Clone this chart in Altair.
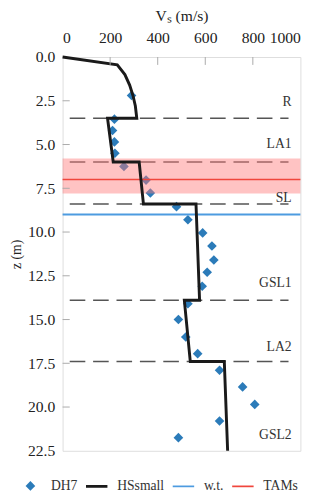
import altair as alt
import pandas as pd

# ---- data ----
dh7_vs = [290, 218, 210, 218, 220, 258, 351, 369, 479, 527, 589, 628, 636, 608, 587,
          527, 487, 518, 568, 660, 757, 808, 660, 487]
dh7_z = [2.2, 3.55, 4.2, 4.85, 5.5, 6.25, 7.03, 7.77, 8.55, 9.3, 10.05, 10.8, 11.6, 12.3, 13.1,
         14.1, 15.0, 16.0, 16.95, 17.9, 18.85, 19.85, 20.8, 21.75]

hs_vs = [0, 230, 262, 282, 296, 306, 312, 189, 213, 322, 340, 561, 576, 512, 537, 680, 694]
hs_z = [0.0, 0.45, 1.0, 1.6, 2.2, 2.8, 3.5, 3.5, 6.0, 6.0, 8.4, 8.4, 13.9, 13.9, 17.4, 17.4, 22.5]

boundary_z = [3.5, 6.0, 8.4, 13.9, 17.4]
layer_names = ["R", "LA1", "SL", "GSL1", "LA2", "GSL2"]
layer_label_z = [2.6, 5.0, 8.05, 12.9, 16.6, 21.6]

wt_z = [9.0]
tams_z = [7.0]
tams_lo = [5.8]
tams_hi = [7.8]

x_ticks = [0, 200, 400, 600, 800, 1000]
y_ticks = [0.0, 2.5, 5.0, 7.5, 10.0, 12.5, 15.0, 17.5, 20.0, 22.5]

series = ["DH7", "HSsmall", "w.t.", "TAMs"]
series_colors = ["#2b7bb9", "#1a1a1a", "#4d9be0", "#f0463c"]

FONT = "Liberation Serif"

# ---- frames ----
df_pts = pd.DataFrame({"vs": dh7_vs, "z": dh7_z, "series": "DH7"})
df_hs = pd.DataFrame({"vs": hs_vs, "z": hs_z, "i": list(range(len(hs_vs)))})
df_bnd = pd.DataFrame({"vs": 30, "x1": 950, "z": boundary_z})
df_lab = pd.DataFrame({"name": layer_names, "z": layer_label_z, "vs": 963})
df_wt = pd.DataFrame({"z": wt_z})
df_tam = pd.DataFrame({"z": tams_z, "lo": tams_lo, "hi": tams_hi})
df_yt = pd.DataFrame({"z": y_ticks[1:-1], "vs": 0, "x1": 30})
df_xt = pd.DataFrame({"vs": x_ticks[1:-1], "z": 0.0, "z1": 0.45})

xs = alt.Scale(domain=[0, 1000], nice=False)
ys = alt.Scale(domain=[0, 22.5], nice=False, reverse=True)

xaxis = alt.Axis(orient="top", values=x_ticks, format="d", title="Vₛ (m/s)", grid=False,
                 ticks=False, domain=False, labelPadding=12, titlePadding=6,
                 labelOverlap=False, labelBound=False,
                 labelFont=FONT, labelFontSize=16, labelColor="#222",
                 titleFont=FONT, titleFontSize=16, titleFontWeight="normal",
                 titleColor="#222")
yaxis = alt.Axis(values=y_ticks, format=".1f", title="z (m)", grid=False,
                 ticks=False, domain=False, labelPadding=8, titlePadding=4,
                 labelOverlap=False,
                 labelFont=FONT, labelFontSize=16, labelColor="#222",
                 titleFont=FONT, titleFontSize=14, titleFontWeight="normal",
                 titleColor="#222")

X = alt.X("vs:Q", scale=xs, axis=xaxis)
Y = alt.Y("z:Q", scale=ys, axis=yaxis)

diamond = "M0,-0.45L0.45,0L0,0.45L-0.45,0Z"
thick = "M-1,-0.13L1,-0.13L1,0.13L-1,0.13Z"
thin = "M-1,-0.08L1,-0.08L1,0.08L-1,0.08Z"

leg = alt.Legend(title=None, orient="none", direction="horizontal",
                 legendX=-45, legendY=428, padding=0,
                 symbolSize=484, labelOffset=9, columnPadding=5,
                 labelFont=FONT, labelFontSize=14, labelColor="#333",
                 symbolOpacity=1)

dashed = alt.Chart(df_bnd).mark_rule(color="#555", strokeWidth=1.4, strokeDash=[16, 8]).encode(
    x=X, x2="x1:Q", y=Y)

points = alt.Chart(df_pts).mark_point(filled=True, opacity=1, size=484).encode(
    x=X, y=Y,
    color=alt.Color("series:N", scale=alt.Scale(domain=series, range=series_colors), legend=leg),
    shape=alt.Shape("series:N", scale=alt.Scale(domain=series, range=[diamond, thick, thin, thin]),
                    legend=leg),
)

band = alt.Chart(df_tam).mark_rect(color="#ff7a7a", opacity=0.45).encode(
    y=alt.Y("lo:Q", scale=ys, axis=yaxis), y2="hi:Q")
red = alt.Chart(df_tam).mark_rule(color="#f0463c", strokeWidth=1.5).encode(y=Y)
blue = alt.Chart(df_wt).mark_rule(color="#4d9be0", strokeWidth=2).encode(y=Y)

hs = alt.Chart(df_hs).mark_line(color="#1a1a1a", strokeWidth=3, strokeJoin="miter").encode(
    x=X, y=Y, order="i:Q")

yt = alt.Chart(df_yt).mark_rule(color="#aaa", strokeWidth=1).encode(x=X, x2="x1:Q", y=Y)
xt = alt.Chart(df_xt).mark_rule(color="#aaa", strokeWidth=1).encode(x=X, y=Y, y2="z1:Q")

labels = alt.Chart(df_lab).mark_text(font=FONT, fontSize=14, color="#333", align="right",
                                     baseline="middle").encode(x=X, y=Y, text="name:N")

chart = alt.layer(points, dashed, band, red, blue, hs, yt, xt, labels).properties(
    width=244, height=404,
    autosize=alt.AutoSizeParams(type="none"),
    padding={"left": 56, "top": 44, "right": 16, "bottom": 37},
).configure_view(stroke="#b0b0b0", strokeWidth=1).configure(background="white")

chart.save("out.html", embed_options={"renderer": "svg", "actions": False})
